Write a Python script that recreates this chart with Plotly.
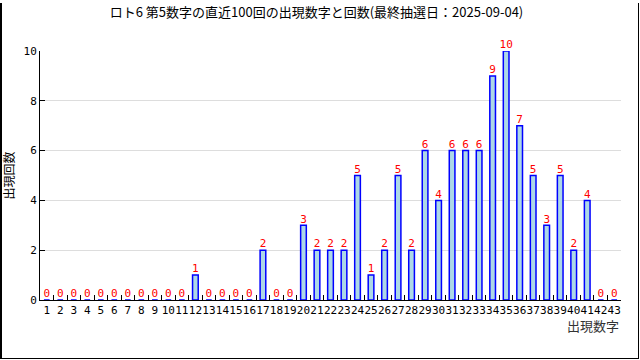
import plotly.graph_objects as go

numbers = [str(i) for i in range(1, 44)]
counts = [0,0,0,0,0,0,0,0,0,0,0,1,0,0,0,0,2,0,0,3,2,2,2,5,1,2,5,2,6,4,6,6,6,9,10,7,5,3,5,2,4,0,0]
title = "ロト6 第5数字の直近100回の出現数字と回数(最終抽選日：2025-09-04)"
y_title = "出現回数"
x_title = "出現数字"

W, H = 640, 360
ml, mr, mt, mb = 40, 19, 51, 60
pw, ph = W - ml - mr, H - mt - mb


def px(x):
    return (x - ml) / pw


def py(y):
    return (H - mb - y) / ph


fig = go.Figure()
fig.add_trace(go.Bar(
    x=numbers, y=counts, width=0.42,
    marker=dict(color="#ADD8E6", line=dict(color="#0000FF", width=1.5)),
    hoverinfo="x+y",
))
fig.add_trace(go.Scatter(
    x=numbers, y=counts, mode="text", text=[str(c) for c in counts],
    textposition="top center",
    textfont=dict(family="DejaVu Sans Mono", size=11, color="#FF0000"),
    cliponaxis=False, hoverinfo="skip",
))

fig.update_layout(
    width=W, height=H, showlegend=False,
    paper_bgcolor="white", plot_bgcolor="white",
    margin=dict(l=ml, r=mr, t=mt, b=mb, autoexpand=False),
    title=dict(text=title, x=316.5 / W, xref="container", xanchor="center", y=1 - 12/H, yanchor="middle",
               font=dict(family="Noto Sans CJK JP", size=13, color="black")),
    xaxis=dict(type="category", range=[-0.5, len(numbers) - 0.5], autorange=False,
               automargin=False,
               tickson="boundaries", ticks="inside", ticklen=5,
               tickmode="array", tickvals=numbers, ticktext=numbers,
               tickcolor="black", showline=True, linecolor="black", linewidth=1,
               showgrid=False, tickangle=0,
               tickfont=dict(family="DejaVu Sans Mono", size=11, color="black")),
    yaxis=dict(range=[0, 10], tickvals=[0, 2, 4, 6, 8, 10], ticks="inside", ticklen=5,
               automargin=False,
               tickcolor="black", showline=True, linecolor="black", linewidth=1,
               showgrid=True, gridcolor="#DDDDDD", zeroline=False,
               tickfont=dict(family="DejaVu Sans Mono", size=11, color="black"),
               title=dict(text=y_title, standoff=10,
                          font=dict(family="Noto Sans CJK JP", size=12, color="black"))),
    annotations=[dict(text=x_title, xref="paper", yref="paper", x=1, y=-25/ph,
                      xanchor="right", yanchor="middle", showarrow=False,
                      font=dict(family="Noto Sans CJK JP", size=13, color="#333333"))],
    shapes=[
        dict(type="line", xref="paper", yref="paper", x0=px(1), x1=px(1), y0=py(3), y1=py(359),
             line=dict(color="black", width=2), layer="above"),
        dict(type="line", xref="paper", yref="paper", x0=px(638.5), x1=px(638.5), y0=py(3), y1=py(359),
             line=dict(color="black", width=1), layer="above"),
        dict(type="line", xref="paper", yref="paper", x0=px(0), x1=px(639), y0=py(358.5), y1=py(358.5),
             line=dict(color="black", width=1), layer="above"),
    ],
)
fig.write_html("out.html", config={"displayModeBar": False},
               post_script="document.body.style.margin='0';")
